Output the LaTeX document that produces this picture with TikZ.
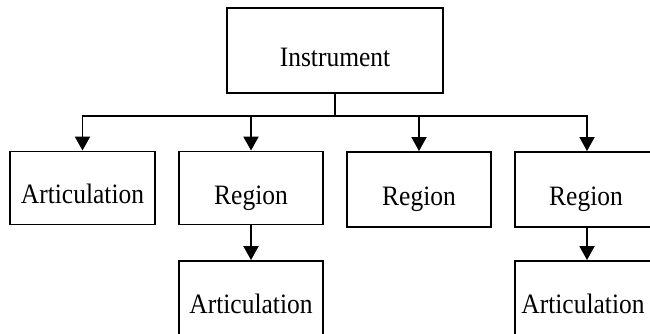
\documentclass[tikz,border=0pt]{standalone}
\usepackage{fontspec}
\setmainfont{Liberation Serif}
\usetikzlibrary{arrows.meta}
\newcommand{\tallish}[1]{\scalebox{0.98}[1.08]{#1}}
\begin{document}
\begin{tikzpicture}[x=1pt,y=-1pt,
  box/.style={draw=black,line width=1.9pt,rectangle,inner sep=0pt},
  lbl/.style={anchor=base,inner sep=0pt,font=\fontsize{26}{30}\selectfont},
  arr/.style={draw=black,line width=1.9pt,-{Triangle[length=14pt,width=15pt]}},
  ln/.style={draw=black,line width=1.9pt}]
\useasboundingbox (0,0) rectangle (650,333);
\clip (0,0) rectangle (650,333);
% boxes
\node[box,minimum width=216pt,minimum height=85pt] (inst) at (335,50.5) {};
\node[box,minimum width=145pt,minimum height=73pt] (art1) at (82.5,188) {};
\node[box,minimum width=144pt,minimum height=73pt] (reg1) at (251,188) {};
\node[box,minimum width=144pt,minimum height=75pt] (reg2) at (419,189.5) {};
\node[box,minimum width=144pt,minimum height=75pt] (reg3) at (587,189.5) {};
\node[box,minimum width=144pt,minimum height=74pt] (art2) at (251,298) {};
\node[box,minimum width=144pt,minimum height=74pt] (art3) at (587,298) {};
% texts
\node[lbl] (tinst) at (335,66) {\tallish{Instrument}};
\node[lbl] (tart1) at (82.5,203) {\tallish{Articulation}};
\node[lbl] (treg1) at (251,204) {\tallish{Region}};
\node[lbl] (treg2) at (419,205) {\tallish{Region}};
\node[lbl] (treg3) at (586,205) {\tallish{Region}};
\node[lbl] (tart2) at (251,313) {\tallish{Articulation}};
\node[lbl] (tart3) at (583,313) {\tallish{Articulation}};
% connectors
\coordinate (bus) at (335,116);
\draw[ln] (inst.south) -- (bus);
\draw[arr] (bus) -| (art1.north);
\draw[arr] (bus) -| (reg1.north);
\draw[arr] (bus) -| (reg2.north);
\draw[arr] (bus) -| (reg3.north);
\draw[arr] (reg1.south) -- (art2.north);
\draw[arr] (reg3.south) -- (art3.north);
\end{tikzpicture}
\end{document}
